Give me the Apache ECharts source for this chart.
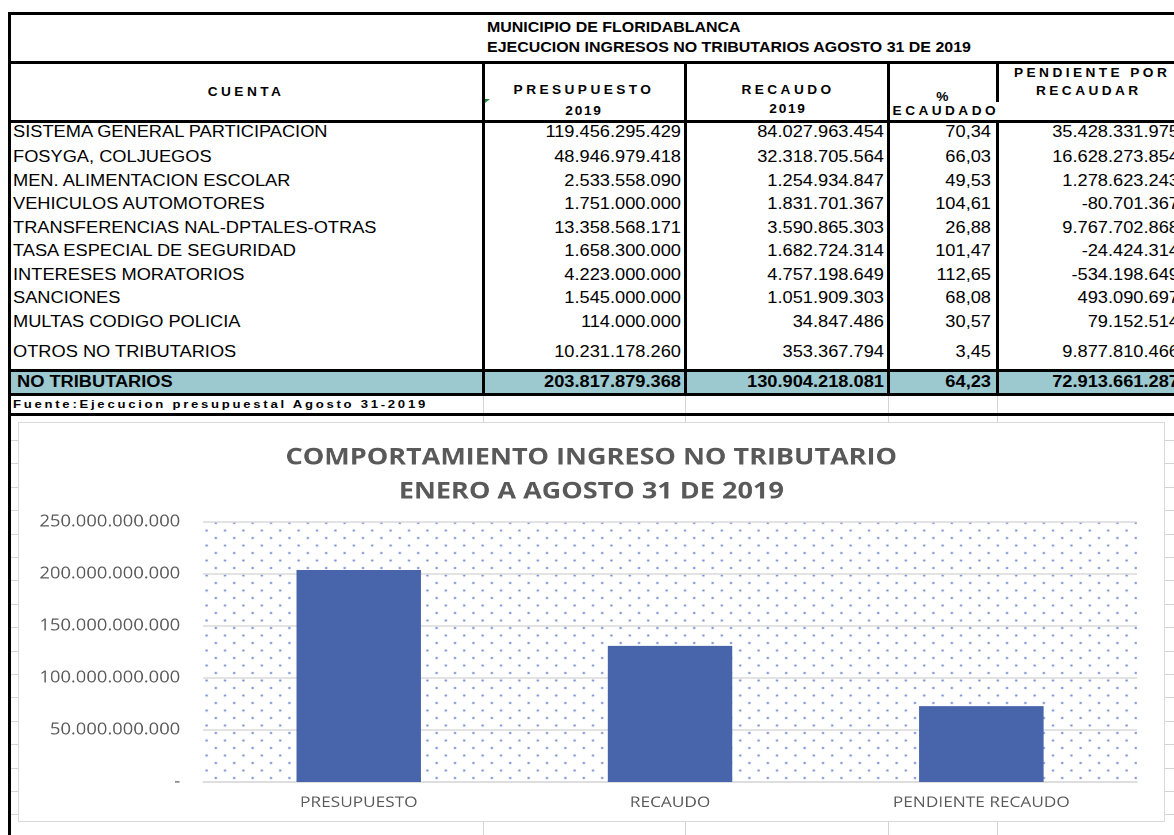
<!DOCTYPE html>
<html>
<head>
<meta charset="utf-8">
<script src="https://cdn.jsdelivr.net/npm/echarts@6/dist/echarts.min.js"></script>
<style>
html, body { margin: 0; padding: 0; background: #fff; }
#page { position: relative; width: 1174px; height: 835px; overflow: hidden; background: #fff;
        font-family: 'Liberation Sans', Arial, sans-serif; color: #000; }
.t { position: absolute; white-space: nowrap; font-size: 16px; line-height: 1; }
.b { font-weight: bold; }
.ti { font-weight: bold; font-size: 14px; }
.h { font-weight: bold; font-size: 12px; letter-spacing: 3px; }
.h2 { font-weight: bold; font-size: 12px; letter-spacing: 1.5px; }
.f { font-weight: bold; font-size: 11.5px; letter-spacing: 2.4px; }
.ln { position: absolute; }
#box { position: absolute; left: 18px; top: 422px; width: 1147px; height: 400px; box-sizing: border-box;
       border: 1.5px solid #d9d9d9; background: #fff; overflow: hidden; }
#chart { position: absolute; left: -1.5px; top: -1.5px; width: 997px; height: 400px;
         transform: scaleX(1.15); transform-origin: 0 0; }
</style>
</head>
<body>
<div id="page">
  <div id="box"><div id="chart"></div></div>
</div>
<script>
// tabla
const titulo = ['MUNICIPIO DE FLORIDABLANCA', 'EJECUCION INGRESOS NO TRIBUTARIOS AGOSTO 31 DE 2019'];
const cuentas = [
  'SISTEMA GENERAL PARTICIPACION',
  'FOSYGA, COLJUEGOS',
  'MEN. ALIMENTACION ESCOLAR',
  'VEHICULOS AUTOMOTORES',
  'TRANSFERENCIAS NAL-DPTALES-OTRAS',
  'TASA ESPECIAL DE SEGURIDAD',
  'INTERESES MORATORIOS',
  'SANCIONES',
  'MULTAS CODIGO POLICIA',
  'OTROS NO TRIBUTARIOS'
];
const presupuesto = [119456295429, 48946979418, 2533558090, 1751000000, 13358568171,
                     1658300000, 4223000000, 1545000000, 114000000, 10231178260];
const recaudo = [84027963454, 32318705564, 1254934847, 1831701367, 3590865303,
                 1682724314, 4757198649, 1051909303, 34847486, 353367794];
const porcentaje = [70.34, 66.03, 49.53, 104.61, 26.88, 101.47, 112.65, 68.08, 30.57, 3.45];
const pendiente = [35428331975, 16628273854, 1278623243, -80701367, 9767702868,
                   -24424314, -534198649, 493090697, 79152514, 9877810466];
const totalNombre = 'NO TRIBUTARIOS';
const totales = [203817879368, 130904218081, 64.23, 72913661287];
const fuente = 'Fuente:Ejecucion presupuestal  Agosto 31-2019';

// grafico
const chartTitle = ['COMPORTAMIENTO INGRESO NO TRIBUTARIO', 'ENERO A AGOSTO 31 DE 2019'];
const chartCats = ['PRESUPUESTO', 'RECAUDO', 'PENDIENTE RECAUDO'];
const chartValues = [203817879368, 130904218081, 72913661287];
const yMin = 0, yMax = 250000000000, yStep = 50000000000;

const SX = 1.14; // el pantallazo viene estirado a lo ancho
const page = document.getElementById('page');
const box = document.getElementById('box');

function miles(n) {
  const s = Math.abs(Math.round(n)).toString().replace(/\B(?=(\d{3})+(?!\d))/g, '.');
  return (n < 0 ? '-' : '') + s;
}
function pct(n) { return n.toFixed(2).replace('.', ','); }

function rect(x, y, w, h, color) {
  const d = document.createElement('div');
  d.className = 'ln';
  d.style.cssText = `left:${x}px;top:${y}px;width:${w}px;height:${h}px;background:${color};`;
  page.insertBefore(d, box);
  return d;
}
function txt(s, x, y, align, cls, parent) {
  const d = document.createElement('div');
  d.className = 't ' + (cls || '');
  d.textContent = s;
  const tx = align === 'left' ? '0' : align === 'right' ? '-100%' : '-50%';
  d.style.left = x + 'px';
  d.style.top = y + 'px';
  d.style.transformOrigin = (align === 'left' ? 'left' : align === 'right' ? 'right' : 'center') + ' center';
  d.style.transform = `translate(${tx}, -50%) scaleX(${SX})`;
  (parent || page).insertBefore(d, parent ? null : box);
  return d;
}

// fondo celeste del total
rect(11, 372, 1163, 21, '#9cc8cf');

// cuadricula gris de la hoja
const gris = '#d4d4d4';
[483, 685, 888, 997].forEach(x => rect(x, 396, 1, 439, gris));
for (let y = 440; y < 835; y += 23.4) rect(11, Math.round(y), 1163, 1, gris);

// bordes gruesos
const negro = '#000';
[12, 61, 120, 369, 393, 413].forEach(y => rect(8, y, 1166, 3, negro));
rect(8, 12, 3, 823, negro);
[482, 684, 887].forEach(x => rect(x, 61, 3, 335, negro));
rect(996, 61, 3, 41, negro);
rect(996, 120, 3, 276, negro);

// marca verde de celda
const tri = rect(485, 99, 0, 0, 'transparent');
tri.style.borderTop = '4px solid #1f8a3b';
tri.style.borderRight = '5px solid transparent';

// encabezado
txt(titulo[0], 487, 27, 'left', 'ti');
txt(titulo[1], 487, 47, 'left', 'ti');
txt('CUENTA', 246, 92, 'center', 'h');
txt('PRESUPUESTO', 584, 90, 'center', 'h');
txt('2019', 584, 111, 'center', 'h2');
txt('RECAUDO', 788, 90, 'center', 'h');
txt('2019', 788, 109, 'center', 'h2');
txt('%', 944, 97, 'center', 'h');
const clip = document.createElement('div');
clip.style.cssText = 'position:absolute;left:890px;top:101px;width:110px;height:20px;overflow:hidden;';
page.insertBefore(clip, box);
txt('RECAUDADO', 109, 10, 'right', 'h', clip);
txt('PENDIENTE POR', 1014, 73, 'left', 'h');
txt('RECAUDAR', 1036, 91, 'left', 'h');

// filas
const filaY = [132, 157, 181, 204, 228, 251, 275, 298, 322, 352];
cuentas.forEach((c, i) => {
  const y = filaY[i];
  txt(c, 13, y, 'left');
  txt(miles(presupuesto[i]), 681, y, 'right');
  txt(miles(recaudo[i]), 884, y, 'right');
  txt(pct(porcentaje[i]), 991, y, 'right');
  txt(miles(pendiente[i]), 1179, y, 'right');
});
txt(totalNombre, 17, 382, 'left', 'b');
txt(miles(totales[0]), 681, 382, 'right', 'b');
txt(miles(totales[1]), 884, 382, 'right', 'b');
txt(pct(totales[2]), 991, 382, 'right', 'b');
txt(miles(totales[3]), 1179, 382, 'right', 'b');
txt(fuente, 13, 405, 'left', 'f');

// trama de puntos del area de trazado
const tile = document.createElement('canvas');
tile.width = 16; tile.height = 15;
const g = tile.getContext('2d');
g.fillStyle = 'rgba(60,90,190,0.9)';
g.beginPath(); g.arc(4, 3.5, 1, 0, Math.PI * 2); g.fill();
g.beginPath(); g.arc(12, 11, 1, 0, Math.PI * 2); g.fill();

const texto = '#595959';
const chart = echarts.init(document.getElementById('chart'), null, { renderer: 'canvas', devicePixelRatio: 2 });
chart.setOption({
  animation: false,
  title: {
    text: chartTitle.join('\n'),
    left: 'center',
    top: 14,
    textStyle: { fontFamily: 'Open Sans', fontSize: 23.5, fontWeight: 'bold', color: texto, lineHeight: 34 }
  },
  grid: {
    left: 161, right: 24, top: 100, bottom: 40,
    show: true,
    borderWidth: 0,
    backgroundColor: { image: tile, repeat: 'repeat' }
  },
  xAxis: {
    type: 'category',
    data: chartCats,
    axisLine: { lineStyle: { color: '#d9d9d9', width: 1.5 } },
    axisTick: { show: false },
    axisLabel: { color: texto, fontFamily: 'Open Sans', fontSize: 15, margin: 13 }
  },
  yAxis: {
    type: 'value',
    min: yMin, max: yMax, interval: yStep,
    axisLine: { show: false },
    axisTick: { show: false },
    splitLine: { lineStyle: { color: '#d9d9d9', width: 1.5 } },
    axisLabel: {
      color: texto, fontFamily: 'Open Sans', fontSize: 16, margin: 20,
      formatter: v => v === 0 ? '-' : miles(v)
    }
  },
  series: [{
    type: 'bar',
    data: chartValues,
    barWidth: '40%',
    itemStyle: { color: '#4865ac' }
  }]
});
</script>
</body>
</html>
